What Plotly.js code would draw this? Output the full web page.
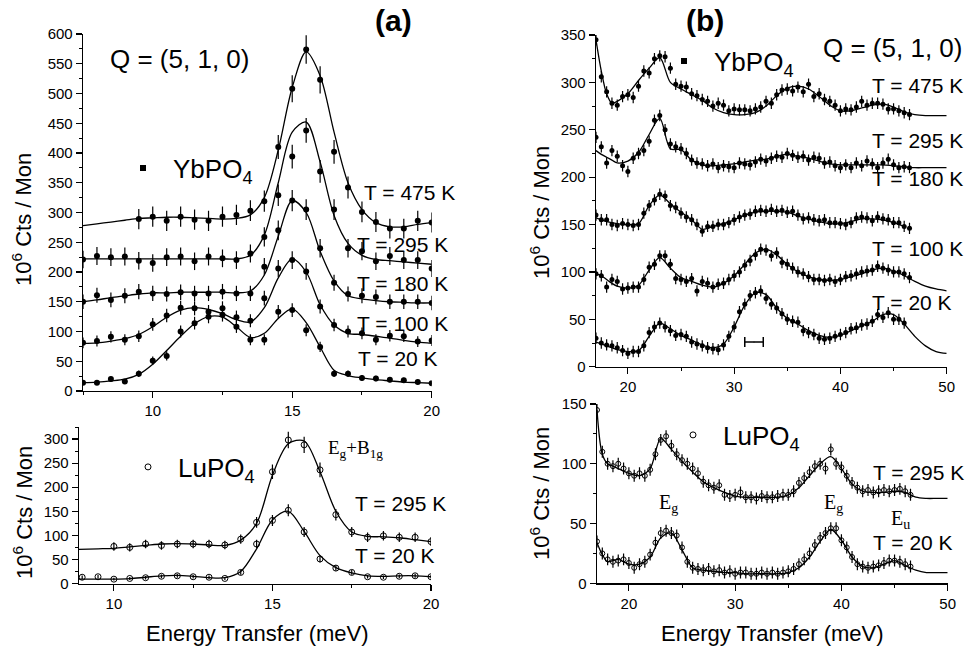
<!DOCTYPE html>
<html><head><meta charset="utf-8">
<script src="https://cdn.plot.ly/plotly-3.0.1.min.js"></script>
<style>html,body{margin:0;padding:0;background:#fff}#chart{width:967px;height:647px}</style>
</head><body><div id="chart"></div>
<script>
// ---------- Panel (a), top: YbPO4, Q=(5,1,0) ----------
const EA = [7.5,8,8.5,9,9.5,10,10.5,11,11.5,12,12.5,13,13.5,14,14.5,15,15.5,16,16.5,17,17.5,18,18.5,19,19.5,20];
const ybA475 = [null,null,null,null,289,293,286,293,288,286,293,296,303,319,410,508,574,523,402,342,301,284,273,273,286,283];
const ybA295 = [221,227,225,226,219,215,225,226,218,226,223,220,231,259,329,394,438,369,305,240,235,218,227,220,220,206];
const ybA180 = [150,161,153,160,167,164,163,166,164,164,167,164,164,209,270,320,305,240,182,163,160,158,150,150,150,148];
const ybA100 = [81,84,91,86,92,112,127,140,139,133,139,124,118,156,206,220,201,142,111,100,97,86,93,92,83,85];
const ybA20  = [14,14,20,16,29,51,59,100,114,125,128,108,86,86,133,136,102,74,29,29,22,21,19,18,15,13];
const fitA475 = [278,281,284,287,290,291,292,292,291,290,289,290,296,325,405,510,570,530,435,350,305,283,276,276,280,283];
const fitA295 = [222,222,222,222,222,222,222,222,222,222,222,222,228,262,350,435,452,385,295,248,228,221,219,217,215,213];
const fitA180 = [150,153,157,160,163,165,165,166,166,166,166,165,168,195,260,320,300,235,185,160,155,152,150,149,148,148];
const fitA100 = [80,81,84,88,95,108,124,136,140,137,130,120,116,140,190,222,200,145,111,97,95,92,89,85,82,80];
const fitA20  = [14,15,17,20,28,45,68,92,113,125,124,108,90,97,122,138,115,74,35,26,22,19,17,15,14,13];

// ---------- Panel (a), bottom: LuPO4 ----------
const EA2 = [9,9.5,10,10.5,11,11.5,12,12.5,13,13.5,14,14.5,15,15.5,16,16.5,17,17.5,18,18.5,19,19.5,20];
const luA295 = [null,null,77,75,82,79,82,82,82,80,92,127,232,298,288,236,143,107,96,99,96,96,87];
const luA20  = [13,14,9,10.5,12,15,16,14,13,10.5,23,82,131,152,107,51,32,23,14,13,15,16,14];
const FA2 = [8.9,9.5,10,10.5,11,11.5,12,12.5,13,13.5,14,14.5,15,15.5,16,16.5,17,17.5,18,18.5,19,19.5,20];
const fitLuA295 = [71,72,73,76,79,82,83,82,80,79,90,125,225,290,296,232,150,107,98,97,95,91,87];
const fitLuA20  = [9,9,9,10,13,16,17,15,12,12,25,72,132,150,108,58,33,22,16,15,16,16,14];

// ---------- Panel (b), top: YbPO4 ----------
const EB = [17,17.5,18,18.5,19,19.5,20,20.5,21,21.5,22,22.5,23,23.5,24,24.5,25,25.5,26,26.5,27,27.5,28,28.5,29,29.5,30,30.5,31,31.5,32,32.5,33,33.5,34,34.5,35,35.5,36,36.5,37,37.5,38,38.5,39,39.5,40,40.5,41,41.5,42,42.5,43,43.5,44,44.5,45,45.5,46,46.5];
const ybB475 = [345,306,290,278,276,285,287,284,296,312,310,325,328,327,315,298,296,295,288,286,282,280,275,278,276,270,272,271,271,270,272,274,280,278,287,292,293,291,295,290,298,285,288,282,280,276,270,272,271,274,280,276,278,278,277,272,272,270,268,266];
const ybB295 = [242,232,215,228,222,212,206,220,225,228,238,260,265,250,235,232,230,225,218,215,214,212,214,210,212,211,210,215,214,213,216,219,217,220,222,221,225,223,221,222,218,221,220,215,216,212,210,213,210,215,212,217,214,210,215,219,213,210,211,210];
const ybB180 = [160,155,155,150,149,151,150,149,150,162,170,176,182,180,170,168,162,158,155,150,143,148,148,150,150,152,155,158,160,161,164,165,164,166,164,165,163,164,160,156,157,155,154,155,152,152,151,150,152,157,158,157,154,158,156,155,152,152,148,146];
const ybB100 = [98,96,84,92,90,82,83,84,84,92,105,108,117,117,108,93,92,90,93,80,90,88,84,87,88,92,96,100,107,112,118,124,123,117,120,110,108,104,100,98,95,92,92,91,92,90,92,95,96,98,100,101,102,106,104,102,100,100,98,94];
const ybB20  = [30,25,23,22,20,17,14,16,16,22,36,42,46,42,38,33,34,32,26,24,22,20,19,18,23,32,42,58,66,75,78,80,72,66,62,56,50,48,47,38,36,34,30,29,30,32,34,36,40,41,44,45,48,55,52,57,50,50,46,null];
const FB = [17,17.5,18,18.5,19,20,21,22,23,24,25,26,27,28,29,30,31,32,33,34,35,36,37,38,39,40,41,42,43,44,45,46,47,48,49,50];
const fitB475 = [345,312,288,278,280,288,302,315,326,300,293,287,281,273,268,266,266,268,275,286,294,296,293,285,276,270,270,273,276,277,274,269,266,265,265,265];
const fitB295 = [228,224,221,218,215,217,226,245,262,230,229,218,213,212,213,214,216,218,219,222,224,222,220,217,214,213,213,213,213,213,212,211,210,210,210,210];
const fitB180 = [157,155,153,152,151,150,151,170,181,172,163,155,145,148,151,155,160,163,164,164,163,159,156,153,151,151,153,156,156,155,152,148,null,null,null,null];
const fitB100 = [98,96,92,88,85,83,86,102,115,104,94,90,86,84,88,96,108,120,124,118,108,100,95,92,91,92,95,98,102,104,101,96,90,85,82,80];
const fitB20  = [26,24,22,20,18,16,17,32,46,40,33,28,23,20,24,42,65,78,76,62,51,45,38,33,31,33,38,43,48,55,55,45,32,22,16,14];
// instrumental resolution bar
const resE = [31.87], resY = [26], resHalfWidth = [0.87];

// ---------- Panel (b), bottom: LuPO4 ----------
const luB295 = [145,110,100,98,100,96,92,90,92,90,95,108,120,123,115,108,103,100,96,92,85,82,80,82,74,73,74,76,72,72,71,73,72,72,73,74,74,77,84,88,93,98,100,96,112,100,97,90,84,80,77,78,76,77,78,77,78,79,77,74];
const luB20  = [35,25,20,18,19,20,17,13,16,18,24,34,42,44,42,40,30,18,13,12,11,12,10,11,9,10,8,9,9,8,8,9,8,9,8,9,10,12,16,20,25,32,38,42,46,46,36,30,22,16,14,13,14,15,17,19,19,18,16,14];
const fitLuB295 = [145,108,100,98,96,92,90,96,121,112,102,93,85,80,76,73,72,72,72,72,74,80,90,100,106,96,83,77,76,76,77,76,72,71,71,71];
const fitLuB20  = [34,24,18,19,20,16,16,22,38,42,28,13,11,10,9,9,8,8,8,8,9,13,22,35,45,36,22,14,13,16,19,15,11,9,9,9];

// ---------- styling ----------
const FONT = 'Liberation Sans, Arial, sans-serif';
const SERIF = 'Liberation Serif, Times New Roman, serif';
const K = '#000';

function fit(x, y, xa, ya) {
  return {x: x, y: y, xaxis: xa, yaxis: ya, type: 'scatter', mode: 'lines',
    line: {color: K, width: 1.3, shape: 'spline', smoothing: 0.9},
    showlegend: false, hoverinfo: 'skip', connectgaps: false};
}
function pts(x, y, xa, ya, open, err, size) {
  return {x: x, y: y, xaxis: xa, yaxis: ya, type: 'scatter', mode: 'markers',
    marker: open ? {symbol: 'circle-open', size: size, color: K, line: {width: 1, color: K}}
                 : {symbol: 'circle', size: size, color: K},
    error_y: Object.assign({visible: true, color: K, thickness: 1.2, width: 0}, err),
    showlegend: false, hoverinfo: 'skip'};
}
function legItem(name, legend, open) {
  return {x: [null], y: [null], type: 'scatter', mode: 'markers', name: name, legend: legend,
    marker: open ? {symbol: 'circle-open', size: 6, color: K, line: {width: 1, color: K}}
                 : {symbol: 'square', size: 6, color: K},
    showlegend: true, hoverinfo: 'skip'};
}

const sqrtErr = {type: 'sqrt'};
const traces = [
  fit(EA, fitA475, 'x', 'y'), fit(EA, fitA295, 'x', 'y'), fit(EA, fitA180, 'x', 'y'),
  fit(EA, fitA100, 'x', 'y'), fit(EA, fitA20, 'x', 'y'),
  pts(EA, ybA475, 'x', 'y', false, sqrtErr, 6), pts(EA, ybA295, 'x', 'y', false, sqrtErr, 6),
  pts(EA, ybA180, 'x', 'y', false, sqrtErr, 6), pts(EA, ybA100, 'x', 'y', false, sqrtErr, 6),
  pts(EA, ybA20, 'x', 'y', false, sqrtErr, 6),

  fit(FA2, fitLuA295, 'x2', 'y2'), fit(FA2, fitLuA20, 'x2', 'y2'),
  pts(EA2, luA295, 'x2', 'y2', true, sqrtErr, 6), pts(EA2, luA20, 'x2', 'y2', true, sqrtErr, 6),

  fit(FB, fitB475, 'x3', 'y3'), fit(FB, fitB295, 'x3', 'y3'), fit(FB, fitB180, 'x3', 'y3'),
  fit(FB, fitB100, 'x3', 'y3'), fit(FB, fitB20, 'x3', 'y3'),
  pts(EB, ybB475, 'x3', 'y3', false, {type: 'constant', value: 6}, 5),
  pts(EB, ybB295, 'x3', 'y3', false, {type: 'constant', value: 6}, 5),
  pts(EB, ybB180, 'x3', 'y3', false, {type: 'constant', value: 6}, 5),
  pts(EB, ybB100, 'x3', 'y3', false, {type: 'constant', value: 6}, 5),
  pts(EB, ybB20, 'x3', 'y3', false, {type: 'constant', value: 6}, 5),
  {x: resE, y: resY, xaxis: 'x3', yaxis: 'y3', type: 'scatter', mode: 'markers',
   marker: {size: 1, color: K},
   error_x: {type: 'data', array: resHalfWidth, visible: true, color: K, thickness: 1.5, width: 5},
   showlegend: false, hoverinfo: 'skip'},

  fit(FB, fitLuB295, 'x4', 'y4'), fit(FB, fitLuB20, 'x4', 'y4'),
  pts(EB, luB295, 'x4', 'y4', true, {type: 'constant', value: 5}, 5),
  pts(EB, luB20, 'x4', 'y4', true, {type: 'constant', value: 5}, 5),

  legItem('YbPO<sub>4</sub>', 'legend', false),
  legItem('LuPO<sub>4</sub>', 'legend2', true),
  legItem('YbPO<sub>4</sub>', 'legend3', false),
  legItem('LuPO<sub>4</sub>', 'legend4', true)
];

function axis(domain, range, dtick, minor, anchor) {
  return {domain: domain, range: range, dtick: dtick, tick0: 0, anchor: anchor,
    showline: true, linecolor: K, linewidth: 1.3, mirror: false,
    ticks: 'outside', ticklen: 6, tickwidth: 1.2, tickcolor: K,
    showgrid: false, zeroline: false, fixedrange: true,
    tickfont: {family: FONT, size: 15, color: K},
    minor: {dtick: minor, tick0: 0, ticks: 'outside', ticklen: 3, tickwidth: 1, tickcolor: K, showgrid: false}};
}
const W = 967, H = 647;
const px = v => v / W, py = v => 1 - v / H;

function leg(x, y) {
  return {x: x, y: y, xanchor: 'left', yanchor: 'middle', bgcolor: 'rgba(0,0,0,0)', borderwidth: 0,
    itemwidth: 50, font: {family: FONT, size: 26, color: K}};
}

const tf = {family: FONT, size: 21, color: K};
const qf = {family: FONT, size: 26, color: K};
function lab(text, x, y, xa, ya, opts) {
  return Object.assign({text: text, x: x, y: y, xref: xa, yref: ya, showarrow: false,
    xanchor: 'left', yanchor: 'middle', font: tf}, opts || {});
}
function paperLab(text, x, y, opts) {
  return Object.assign({text: text, x: px(x), y: py(y), xref: 'paper', yref: 'paper', showarrow: false,
    xanchor: 'center', yanchor: 'middle', font: tf}, opts || {});
}
const yTitleFont = {family: FONT, size: 22, color: K};
const xTitleFont = {family: FONT, size: 22, color: K};

const layout = {
  width: W, height: H, margin: {l: 0, r: 0, t: 0, b: 0},
  paper_bgcolor: '#fff', plot_bgcolor: '#fff',
  xaxis:  axis([px(83), px(431.7)], [7.5, 20], 5, 2.5, 'y'),
  yaxis:  axis([py(391), py(34)], [0, 600], 50, 25, 'x'),
  xaxis2: axis([px(79), px(431)], [8.9, 20], 5, 2.5, 'y2'),
  yaxis2: axis([py(583.5), py(427)], [0, 325], 50, 25, 'x2'),
  xaxis3: axis([px(596), px(946.7)], [17, 50], 10, 5, 'y3'),
  yaxis3: axis([py(366.7), py(35)], [0, 350], 50, 25, 'x3'),
  xaxis4: axis([px(597), px(947.7)], [17, 50], 10, 5, 'y4'),
  yaxis4: axis([py(583.3), py(404)], [0, 150], 50, 25, 'x4'),
  legend:  leg(px(113), py(168)),
  legend2: leg(px(118), py(467)),
  legend3: leg(px(654), py(61)),
  legend4: leg(px(663), py(435)),
  annotations: [
    paperLab('<b>(a)</b>', 393, 20, {font: {family: FONT, size: 30, color: K}}),
    paperLab('<b>(b)</b>', 705, 20, {font: {family: FONT, size: 30, color: K}}),
    lab('Q = (5, 1, 0)', 8.4, 558, 'x', 'y', {font: qf}),
    lab('T = 475 K', 17.5, 334, 'x', 'y'),
    lab('T = 295 K', 17.25, 247, 'x', 'y'),
    lab('T = 180 K', 17.25, 180, 'x', 'y'),
    lab('T = 100 K', 17.25, 114, 'x', 'y'),
    lab('T = 20 K', 17.3, 54, 'x', 'y'),
    lab('E<sub>g</sub>+B<sub>1g</sub>', 17.63, 280, 'x2', 'y2', {xanchor: 'center', font: {family: SERIF, size: 19, color: K}}),
    lab('T = 295 K', 17.54, 167, 'x2', 'y2'),
    lab('T = 20 K', 17.54, 58, 'x2', 'y2'),
    lab('Q = (5, 1, 0)', 38.2, 336, 'x3', 'y3', {font: qf}),
    lab('T = 475 K', 42.8, 297, 'x3', 'y3'),
    lab('T = 295 K', 42.8, 239, 'x3', 'y3'),
    lab('T = 180 K', 42.8, 199, 'x3', 'y3'),
    lab('T = 100 K', 42.8, 125, 'x3', 'y3'),
    lab('T = 20 K', 42.8, 68, 'x3', 'y3'),
    lab('T = 295 K', 42.8, 93, 'x4', 'y4'),
    lab('T = 20 K', 42.8, 34, 'x4', 'y4'),
    lab('E<sub>g</sub>', 23.7, 67, 'x4', 'y4', {xanchor: 'center', font: {family: SERIF, size: 20, color: K}}),
    lab('E<sub>g</sub>', 39.3, 67, 'x4', 'y4', {xanchor: 'center', font: {family: SERIF, size: 20, color: K}}),
    lab('E<sub>u</sub>', 45.6, 53, 'x4', 'y4', {xanchor: 'center', font: {family: SERIF, size: 20, color: K}}),
    paperLab('Energy Transfer (meV)', 257, 633, {font: xTitleFont}),
    paperLab('Energy Transfer (meV)', 772, 633, {font: xTitleFont}),
    paperLab('10<sup>6</sup> Cts / Mon', 22, 220, {textangle: -90, font: yTitleFont}),
    paperLab('10<sup>6</sup> Cts / Mon', 23, 513, {textangle: -90, font: yTitleFont}),
    paperLab('10<sup>6</sup> Cts / Mon', 540, 213, {textangle: -90, font: yTitleFont}),
    paperLab('10<sup>6</sup> Cts / Mon', 540, 494, {textangle: -90, font: yTitleFont})
  ]
};

Plotly.newPlot('chart', traces, layout, {displayModeBar: false, staticPlot: true});
</script></body></html>
